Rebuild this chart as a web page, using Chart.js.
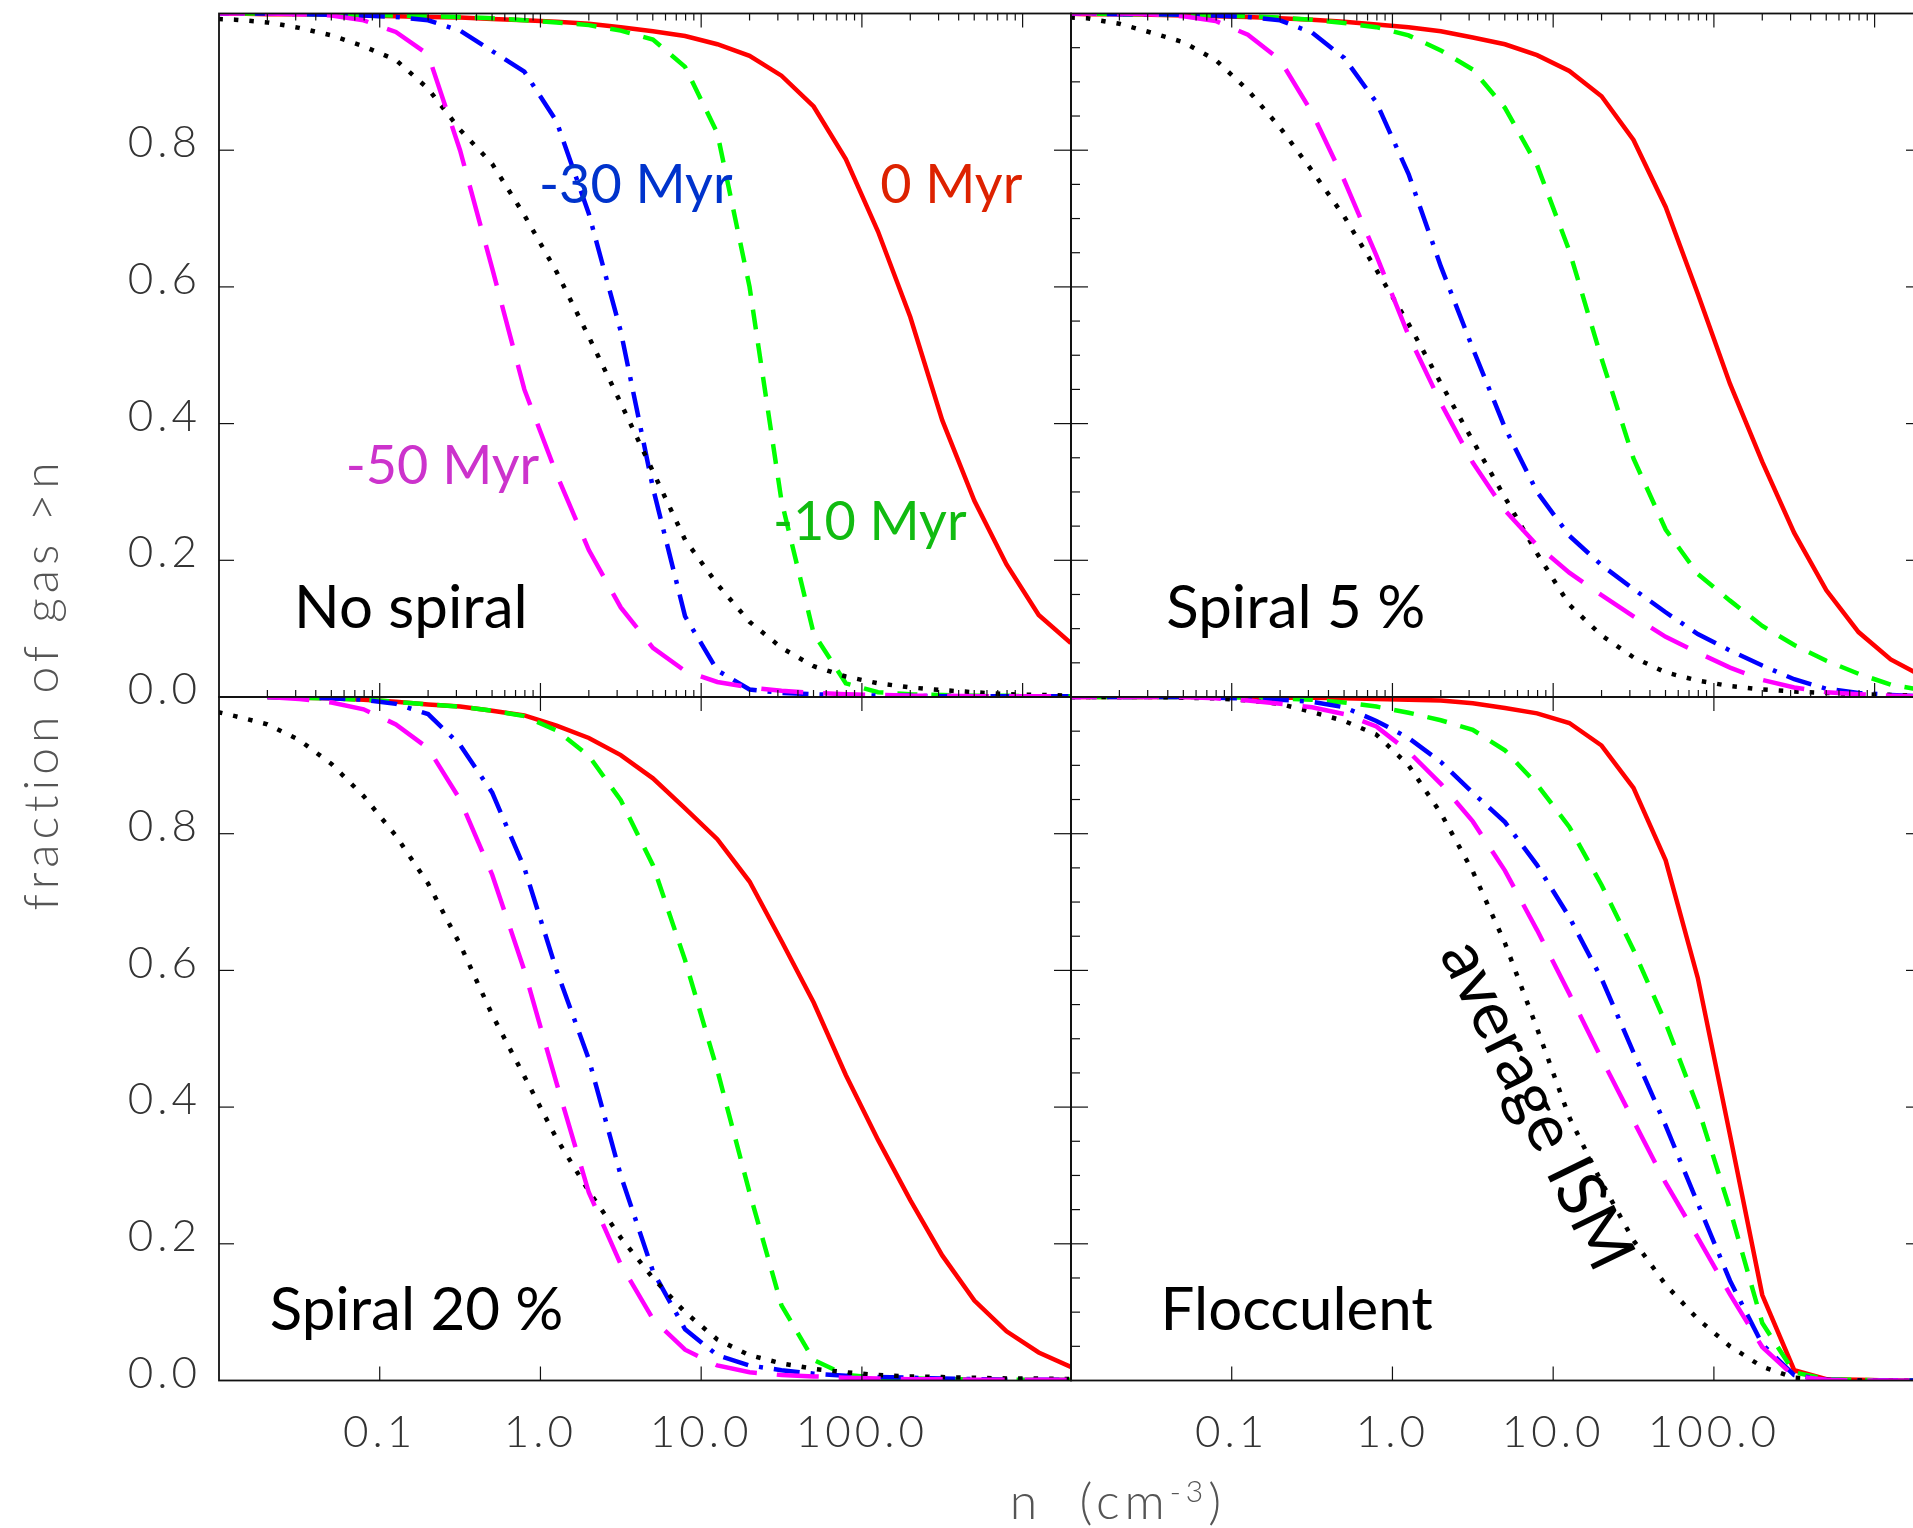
<!DOCTYPE html>
<html>
<head>
<meta charset="utf-8">
<title>Fraction of gas above density n</title>
<script src="https://cdn.jsdelivr.net/npm/chart.js@4.4.1/dist/chart.umd.min.js"></script>
<style>
  html, body { margin: 0; padding: 0; background: #fff; overflow: hidden; }
  #page { position: relative; width: 1913px; height: 1528px; overflow: hidden; background: #fff; }
  #page canvas { position: absolute; left: 0; top: 0; }
</style>
</head>
<body>
<div id="page">
  <canvas id="noSpiral" width="1940" height="1528"></canvas>
  <canvas id="spiral5" width="1940" height="1528"></canvas>
  <canvas id="spiral20" width="1940" height="1528"></canvas>
  <canvas id="flocculent" width="1940" height="1528"></canvas>
</div>
<script>
// Density bins, n in cm^-3 (0.2 dex apart).
const DENSITY = [0.00794, 0.0126, 0.02, 0.0316, 0.0501, 0.0794, 0.126, 0.2, 0.316, 0.501,
  0.794, 1.26, 2.0, 3.16, 5.01, 7.94, 12.6, 20.0, 31.6, 50.1, 79.4, 126, 200, 316, 501, 794, 1259, 1995];

// No spiral
const NOSPIRAL_0MYR = [1.0, 1.0, 0.999, 0.999, 0.998, 0.997, 0.996, 0.995, 0.994, 0.992, 0.99, 0.988, 0.985, 0.98, 0.974, 0.967, 0.955, 0.938, 0.909, 0.864, 0.787, 0.681, 0.556, 0.405, 0.287, 0.194, 0.120, 0.079];
const NOSPIRAL_10MYR = [1.0, 1.0, 1.0, 0.999, 0.999, 0.998, 0.997, 0.996, 0.995, 0.993, 0.99, 0.987, 0.983, 0.975, 0.962, 0.922, 0.825, 0.60, 0.287, 0.093, 0.02, 0.007, 0.004, 0.003, 0.002, 0.002, 0.001, 0.001];
const NOSPIRAL_30MYR = [1.0, 1.0, 1.0, 0.999, 0.998, 0.997, 0.995, 0.99, 0.975, 0.945, 0.915, 0.842, 0.707, 0.535, 0.306, 0.118, 0.039, 0.011, 0.006, 0.004, 0.003, 0.002, 0.002, 0.001, 0.001, 0.001, 0.001, 0.001];
const NOSPIRAL_50MYR = [1.0, 1.0, 1.0, 0.999, 0.997, 0.99, 0.973, 0.94, 0.80, 0.627, 0.45, 0.326, 0.215, 0.131, 0.072, 0.038, 0.022, 0.014, 0.009, 0.006, 0.004, 0.003, 0.002, 0.002, 0.001, 0.001, 0.001, 0.001];
const NOSPIRAL_ISM = [0.993, 0.991, 0.987, 0.979, 0.968, 0.952, 0.932, 0.89, 0.83, 0.78, 0.705, 0.622, 0.527, 0.43, 0.33, 0.23, 0.165, 0.11, 0.072, 0.045, 0.03, 0.02, 0.014, 0.01, 0.007, 0.004, 0.003, 0.002];

// Spiral 5 %
const SPIRAL5_0MYR = [1.0, 0.999, 0.999, 0.998, 0.997, 0.996, 0.995, 0.993, 0.991, 0.988, 0.984, 0.98, 0.974, 0.965, 0.955, 0.939, 0.916, 0.879, 0.815, 0.717, 0.590, 0.458, 0.344, 0.240, 0.156, 0.095, 0.055, 0.030];
const SPIRAL5_10MYR = [1.0, 1.0, 0.999, 0.999, 0.998, 0.997, 0.996, 0.994, 0.991, 0.986, 0.98, 0.968, 0.946, 0.918, 0.862, 0.778, 0.653, 0.495, 0.349, 0.245, 0.18, 0.141, 0.104, 0.076, 0.053, 0.034, 0.018, 0.010];
const SPIRAL5_30MYR = [1.0, 1.0, 0.999, 0.999, 0.998, 0.997, 0.995, 0.99, 0.972, 0.935, 0.87, 0.765, 0.630, 0.510, 0.394, 0.30, 0.236, 0.193, 0.158, 0.124, 0.092, 0.068, 0.046, 0.026, 0.012, 0.006, 0.003, 0.001];
const SPIRAL5_50MYR = [1.0, 1.0, 1.0, 0.999, 0.996, 0.989, 0.969, 0.932, 0.855, 0.756, 0.646, 0.529, 0.430, 0.343, 0.273, 0.222, 0.182, 0.149, 0.118, 0.088, 0.065, 0.043, 0.025, 0.014, 0.007, 0.004, 0.002, 0.001];
const SPIRAL5_ISM = [0.995, 0.993, 0.985, 0.972, 0.958, 0.932, 0.888, 0.833, 0.770, 0.703, 0.625, 0.546, 0.459, 0.375, 0.292, 0.210, 0.135, 0.090, 0.058, 0.036, 0.024, 0.016, 0.011, 0.008, 0.006, 0.004, 0.003, 0.002];

// Spiral 20 %
const SPIRAL20_0MYR = [null, null, 1.0, 0.999, 0.998, 0.996, 0.993, 0.989, 0.986, 0.980, 0.973, 0.958, 0.940, 0.915, 0.881, 0.837, 0.792, 0.730, 0.643, 0.553, 0.447, 0.352, 0.264, 0.183, 0.117, 0.072, 0.041, 0.020];
const SPIRAL20_10MYR = [null, null, 1.0, 0.999, 0.998, 0.996, 0.993, 0.989, 0.986, 0.980, 0.972, 0.951, 0.914, 0.849, 0.754, 0.615, 0.454, 0.275, 0.110, 0.030, 0.008, 0.004, 0.003, 0.002, 0.002, 0.001, 0.001, 0.001];
const SPIRAL20_30MYR = [null, null, 1.0, 0.999, 0.998, 0.996, 0.99, 0.975, 0.93, 0.86, 0.75, 0.60, 0.47, 0.30, 0.16, 0.075, 0.037, 0.022, 0.015, 0.01, 0.007, 0.005, 0.004, 0.003, 0.002, 0.001, 0.001, 0.001];
const SPIRAL20_50MYR = [null, null, 1.0, 0.997, 0.992, 0.982, 0.96, 0.925, 0.85, 0.74, 0.60, 0.435, 0.275, 0.17, 0.09, 0.045, 0.022, 0.012, 0.008, 0.006, 0.004, 0.003, 0.002, 0.002, 0.001, 0.001, 0.001, 0.001];
const SPIRAL20_ISM = [0.983, 0.972, 0.960, 0.937, 0.902, 0.855, 0.797, 0.727, 0.638, 0.535, 0.445, 0.354, 0.277, 0.209, 0.150, 0.100, 0.060, 0.037, 0.025, 0.017, 0.012, 0.008, 0.006, 0.005, 0.004, 0.003, 0.003, 0.002];

// Flocculent
const FLOCC_0MYR = [1.0, 1.0, 1.0, 1.0, 1.0, 1.0, 1.0, 0.999, 0.999, 0.998, 0.997, 0.996, 0.995, 0.991, 0.984, 0.976, 0.962, 0.929, 0.867, 0.761, 0.589, 0.359, 0.125, 0.015, 0.002, 0.001, 0.0, 0.0];
const FLOCC_10MYR = [1.0, 1.0, 1.0, 1.0, 1.0, 1.0, 0.999, 0.998, 0.996, 0.992, 0.986, 0.977, 0.966, 0.952, 0.922, 0.872, 0.81, 0.725, 0.63, 0.523, 0.40, 0.25, 0.084, 0.012, 0.002, 0.001, 0.0, 0.0];
const FLOCC_30MYR = [1.0, 1.0, 1.0, 1.0, 1.0, 0.999, 0.998, 0.996, 0.993, 0.985, 0.965, 0.94, 0.905, 0.86, 0.817, 0.754, 0.678, 0.588, 0.48, 0.373, 0.259, 0.146, 0.053, 0.008, 0.001, 0.0, 0.0, 0.0];
const FLOCC_50MYR = [1.0, 1.0, 1.0, 1.0, 1.0, 0.998, 0.995, 0.99, 0.985, 0.975, 0.957, 0.92, 0.873, 0.818, 0.746, 0.659, 0.566, 0.471, 0.38, 0.289, 0.209, 0.126, 0.049, 0.006, 0.001, 0.0, 0.0, 0.0];
const FLOCC_ISM = [1.0, 1.0, 1.0, 1.0, 0.999, 0.998, 0.995, 0.99, 0.978, 0.965, 0.945, 0.90, 0.83, 0.745, 0.64, 0.515, 0.385, 0.29, 0.205, 0.14, 0.09, 0.05, 0.02, 0.004, 0.001, 0.0, 0.0, 0.0];

// Axis ticks.
const X_LABELS = [0.1, 1, 10, 100];
const X_DECADES = [0.1, 1, 10, 100, 1000];
const Y_LABELS = [0, 0.2, 0.4, 0.6, 0.8];
const Y_MAJOR = [0.2, 0.4, 0.6, 0.8];
const X_MIN = 0.01;
const X_MAX = 2000;

const X_MINOR = [];
[0.01, 0.1, 1, 10, 100, 1000].forEach((d) => {
  for (let k = 2; k <= 9; k++) {
    if (d * k < X_MAX) X_MINOR.push(d * k);
  }
});
const Y_MINOR = [];
for (let k = 1; k < 20; k++) if (k % 4) Y_MINOR.push(k * 0.05);

// Drawn first to last = top to bottom.
const STYLES = [
  {label: '-50 Myr', color: '#ff00ff', dash: [42, 20]},
  {label: 'average ISM', color: '#000000', dash: [4.5, 11]},
  {label: '-30 Myr', color: '#0000ff', dash: [26, 11, 4, 11]},
  {label: '-10 Myr', color: '#00ff00', dash: [20, 14]},
  {label: '0 Myr', color: '#ff0000', dash: []},
];

const /** string */ FONT = 'Lato, "Open Sans", sans-serif';
const CANVAS_W = 1940;
const CANVAS_H = 1528;
const COL_X = [219, 1071, 1923];
const ROW_Y = [13.5, 697, 1380.5];
const Y_AXIS_W = 219;
const X_AXIS_H = 120;

const PANELS = [
  {
    id: 'noSpiral', col: 0, row: 0,
    series: [NOSPIRAL_50MYR, NOSPIRAL_ISM, NOSPIRAL_30MYR, NOSPIRAL_10MYR, NOSPIRAL_0MYR],
    notes: [
      {text: 'No spiral', n: 0.0293, v: 0.101, color: '#000', size: 60},
      {text: '-30 Myr', n: 0.98, v: 0.723, color: '#0033cc', size: 54},
      {text: '0 Myr', n: 130, v: 0.723, color: '#dd2200', size: 54},
      {text: '-50 Myr', n: 0.0614, v: 0.312, color: '#cc33cc', size: 54},
      {text: '-10 Myr', n: 28, v: 0.229, color: '#11bb11', size: 54},
    ],
  },
  {
    id: 'spiral5', col: 1, row: 0,
    series: [SPIRAL5_50MYR, SPIRAL5_ISM, SPIRAL5_30MYR, SPIRAL5_10MYR, SPIRAL5_0MYR],
    notes: [{text: 'Spiral 5 %', n: 0.0392, v: 0.101, color: '#000', size: 60}],
  },
  {
    id: 'spiral20', col: 0, row: 1,
    series: [SPIRAL20_50MYR, SPIRAL20_ISM, SPIRAL20_30MYR, SPIRAL20_10MYR, SPIRAL20_0MYR],
    notes: [{text: 'Spiral 20 %', n: 0.0207, v: 0.074, color: '#000', size: 60}],
  },
  {
    id: 'flocculent', col: 1, row: 1,
    series: [FLOCC_50MYR, FLOCC_ISM, FLOCC_30MYR, FLOCC_10MYR, FLOCC_0MYR],
    notes: [
      {text: 'Flocculent', n: 0.0361, v: 0.074, color: '#000', size: 60},
      {text: 'average ISM', n: 7.87, v: 0.403, color: '#000', size: 66, angle: 64},
    ],
  },
];

/**
 * Wide-spaced tick labels, like the old vector plotting fonts.
 */
const spacingPlugin = {
  id: 'spacing',
  beforeDraw(chart) {
    chart.ctx.letterSpacing = '4px';
  },
  afterDraw(chart) {
    chart.ctx.letterSpacing = '0px';
  },
};

/**
 * Box and inward tick marks, placed through the chart scales.
 */
const framePlugin = {
  id: 'frame',
  afterDatasetsDraw(chart, args, opts) {
    const {ctx, chartArea: a} = chart;
    const sx = chart.scales.x;
    const sy = chart.scales.y;
    ctx.save();
    ctx.strokeStyle = '#111';
    ctx.lineWidth = 1.2;
    const line = (x1, y1, x2, y2) => {
      ctx.beginPath();
      ctx.moveTo(x1, y1);
      ctx.lineTo(x2, y2);
      ctx.stroke();
    };
    (opts.top || []).forEach(([v, len]) => {
      const px = sx.getPixelForValue(v);
      line(px, a.top, px, a.top + len);
    });
    (opts.bottom || []).forEach(([v, len]) => {
      const px = sx.getPixelForValue(v);
      line(px, a.bottom, px, a.bottom - len);
    });
    (opts.left || []).forEach(([v, len]) => {
      const py = sy.getPixelForValue(v);
      line(a.left, py, a.left + len, py);
    });
    (opts.right || []).forEach(([v, len]) => {
      const py = sy.getPixelForValue(v);
      line(a.right, py, a.right - len, py);
    });
    ctx.lineWidth = 1.8;
    ctx.strokeRect(a.left, a.top, a.width, a.height);
    ctx.restore();
  },
};

/**
 * Panel captions and curve names, anchored in data units.
 */
const notesPlugin = {
  id: 'notes',
  afterDraw(chart, args, opts) {
    const {ctx} = chart;
    (opts.items || []).forEach((note) => {
      const px = chart.scales.x.getPixelForValue(note.n);
      const py = chart.scales.y.getPixelForValue(note.v);
      ctx.save();
      ctx.letterSpacing = '0px';
      ctx.fillStyle = note.color;
      ctx.font = `400 ${note.size}px ${FONT}`;
      ctx.translate(px, py);
      if (note.angle) {
        ctx.rotate(note.angle * Math.PI / 180);
        ctx.textAlign = 'center';
        ctx.textBaseline = 'middle';
      } else {
        ctx.textAlign = 'left';
        ctx.textBaseline = 'alphabetic';
      }
      ctx.fillText(note.text, 0, 0);
      ctx.restore();
    });
  },
};

/**
 * Shared axis titles, drawn once on the lower left panel.
 */
const titlesPlugin = {
  id: 'titles',
  afterDraw(chart, args, opts) {
    if (!opts.show) return;
    const {ctx} = chart;
    ctx.save();
    ctx.fillStyle = '#555';
    ctx.font = `300 48px ${FONT}`;
    ctx.letterSpacing = '5px';
    ctx.translate(58, 684);
    ctx.rotate(-Math.PI / 2);
    ctx.textAlign = 'center';
    ctx.textBaseline = 'alphabetic';
    ctx.fillText('fraction of gas >n', 0, 0);
    ctx.restore();

    ctx.save();
    ctx.fillStyle = '#555';
    ctx.letterSpacing = '5px';
    ctx.textAlign = 'left';
    ctx.textBaseline = 'alphabetic';
    const big = `300 50px ${FONT}`;
    const small = `300 30px ${FONT}`;
    const parts = [['n  (cm', big, 0], ['-3', small, -17], [')', big, 0]];
    let width = 0;
    parts.forEach(([t, f]) => {
      ctx.font = f;
      width += ctx.measureText(t).width;
    });
    let x = 1118 - width / 2;
    parts.forEach(([t, f, dy]) => {
      ctx.font = f;
      ctx.fillText(t, x, 1519 + dy);
      x += ctx.measureText(t).width;
    });
    ctx.restore();
  },
};

const ticks = (values, len) => values.map((v) => [v, len]);

const makePanel = (panel) => {
  const {id, col, row, series, notes} = panel;
  const left = col === 0;
  const bottom = row === 1;

  const datasets = series.map((values, i) => ({
    label: STYLES[i].label,
    data: DENSITY.map((n, k) => ({x: n, y: values[k]})),
    borderColor: STYLES[i].color,
    borderDash: STYLES[i].dash,
    borderWidth: 4.5,
    borderCapStyle: 'butt',
    pointRadius: 0,
    tension: 0,
    fill: false,
    spanGaps: false,
  }));

  const frame = {
    top: bottom ? ticks(X_LABELS, 14) : ticks(X_DECADES, 14).concat(ticks(X_MINOR, 7)),
    bottom: bottom ? ticks(X_LABELS, 14) : ticks(X_DECADES, 14).concat(ticks(X_MINOR, 7)),
    left: left ? ticks(Y_MAJOR, 15) : ticks(Y_MAJOR, 17).concat(ticks(Y_MINOR, 9)),
    right: ticks(Y_MAJOR, 17),
  };

  new Chart(document.getElementById(id), {
    type: 'line',
    data: {datasets},
    options: {
      responsive: false,
      animation: false,
      events: [],
      layout: {
        padding: {
          left: left ? 0 : COL_X[1],
          right: CANVAS_W - COL_X[col + 1],
          top: ROW_Y[row],
          bottom: bottom ? CANVAS_H - ROW_Y[2] - X_AXIS_H : CANVAS_H - ROW_Y[1],
        },
      },
      scales: {
        x: {
          type: 'logarithmic',
          min: X_MIN,
          max: X_MAX,
          display: bottom,
          grid: {display: false, drawTicks: false},
          border: {display: false},
          afterBuildTicks: (s) => {
            s.ticks = X_LABELS.map((v) => ({value: v}));
          },
          afterFit: (s) => {
            s.height = s.options.display ? X_AXIS_H : 0;
            s.paddingLeft = 0;
            s.paddingRight = 0;
          },
          ticks: {
            autoSkip: false,
            maxRotation: 0,
            padding: 26,
            color: '#333',
            font: {family: FONT, size: 44, weight: 300},
            callback: (v) => Number(v).toFixed(1),
          },
        },
        y: {
          type: 'linear',
          min: 0,
          max: 1,
          display: left,
          grid: {display: false, drawTicks: false},
          border: {display: false},
          afterBuildTicks: (s) => {
            s.ticks = Y_LABELS.map((v) => ({value: v}));
          },
          afterFit: (s) => {
            s.width = s.options.display ? Y_AXIS_W : 0;
            s.paddingTop = 0;
            s.paddingBottom = 0;
          },
          ticks: {
            padding: 18,
            labelOffset: -7,
            color: '#333',
            font: {family: FONT, size: 44, weight: 300},
            callback: (v) => Number(v).toFixed(1),
          },
        },
      },
      plugins: {
        legend: {display: false},
        tooltip: {enabled: false},
        frame,
        notes: {items: notes},
        titles: {show: id === 'spiral20'},
      },
    },
    plugins: [spacingPlugin, framePlugin, notesPlugin, titlesPlugin],
  });
};

PANELS.forEach(makePanel);
</script>
</body>
</html>
